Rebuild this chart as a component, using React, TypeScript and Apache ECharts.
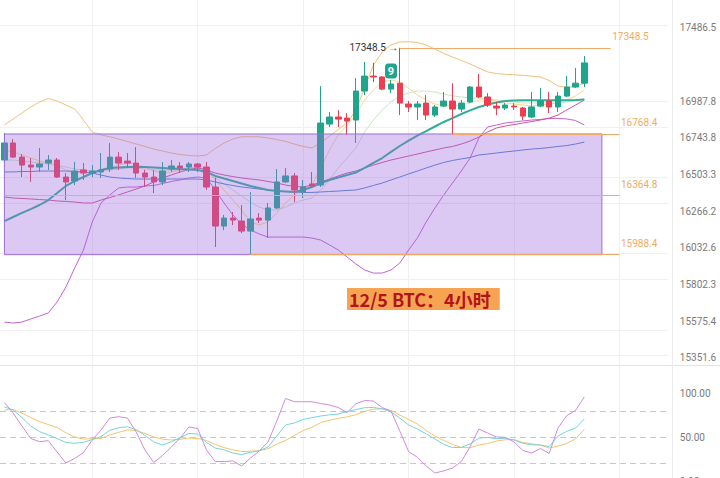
import React, { useEffect, useRef } from 'react';
import * as echarts from 'echarts';

// 4h candle slots (76 slots, 67 filled)
const slots = Array.from({ length: 76 }, (_, i) => String(i));

const open = [16597,16709,16616,16564,16551,16577,16597,16486,16460,16532,16512,16519,16538,16616,16590,16577,16512,16486,16454,16538,16558,16551,16571,16551,16421,16170,16221,16202,16138,16221,16208,16286,16454,16493,16389,16441,16434,16834,16881,16874,16861,17055,17156,17150,17068,17108,16968,16948,16974,16894,16954,16988,16934,16981,17082,17015,16954,16941,16954,16941,16881,16954,16988,16948,17021,17082,17108];
const close = [16709,16616,16564,16551,16571,16597,16486,16454,16525,16512,16525,16532,16616,16577,16577,16512,16486,16454,16525,16558,16545,16571,16551,16421,16170,16221,16208,16138,16215,16208,16286,16454,16493,16402,16421,16428,16841,16881,16867,16854,17055,17156,17150,17068,17102,16974,16948,16968,16894,16948,16988,16934,16974,17082,17015,16961,16941,16961,16948,16887,16948,16988,16948,17021,17082,17108,17245.5];
const low = [16577,16610,16486,16454,16519,16532,16480,16337,16434,16467,16486,16480,16519,16532,16545,16480,16421,16382,16434,16519,16512,16519,16519,16402,16037,16144,16176,16125,15988,16189,16094,16280,16447,16324,16350,16421,16421,16814,16814,16761,16709,17028,17115,17061,17041,16894,16914,16861,16861,16881,16948,16768.4,16914,16975,17008,16948,16894,16928,16928,16861,16874,16948,16907,16914,17015,17075,17082];
const high = [16775,16735,16636,16610,16676,16630,16610,16512,16584,16577,16564,16643,16709,16649,16643,16682,16532,16532,16584,16597,16584,16584,16577,16584,16480,16241,16260,16305,16388,16253,16318,16538,16545,16512,16467,16519,17088,16914,16927,16907,17142,17252,17245,17155,17129,17348.5,16988,16988,17028,16961,17048,17108,16994,17088,17170,17041,16981,16974,16974,16948,17048,17075,17048,17048,17156,17211,17292];

const bbUpper = [16828,16868,16908,16948,16981,17005,16988,16961,16935,16861,16782,16762,16750,16735,16719,16702,16686,16669,16656,16643,16633,16627,16623,16630,16673,16709,16735,16750,16750,16750,16742,16732,16719,16702,16686,16676,16709,16755,16798,16841,16928,17075,17231,17320,17368,17388,17390,17385,17368,17340,17310,17286,17262,17238,17211,17184,17173,17168,17165,17161,17156,17150,17126,17089,17080,17084,17109];
const bbLower = [15569,15563,15569,15588,15606,15625,15693,15786,15905,16018,16196,16318,16370,16415,16421,16421,16428,16431,16444,16457,16467,16480,16486,16480,16402,16318,16241,16183,16145,16120,16100,16100,16100,16100,16100,16094,16081,16050,16018,15974,15930,15892,15873,15873,15892,15936,16018,16094,16196,16286,16370,16447,16525,16610,16742,16815,16828,16841,16848,16855,16861,16865,16871,16872,16868,16858,16828];
const bbMid = [16202,16228,16254,16279,16305,16337,16382,16428,16460,16486,16512,16532,16545,16548,16551,16551,16551,16548,16545,16542,16538,16535,16532,16519,16493,16476,16460,16444,16428,16415,16402,16395,16392,16389,16402,16421,16447,16467,16483,16499,16515,16545,16578,16610,16650,16689,16725,16758,16788,16818,16848,16874,16901,16925,16948,16965,16978,16988,16991,16993,16993,16993,16993,16993,16993,16995,16998];
const maBlue = [16519,16519,16522,16522,16525,16525,16525,16525,16522,16519,16512,16499,16486,16480,16476,16473,16473,16473,16473,16473,16473,16473,16473,16467,16454,16441,16431,16421,16415,16408,16402,16395,16392,16389,16386,16386,16389,16392,16395,16399,16402,16415,16431,16447,16467,16486,16506,16525,16545,16564,16581,16594,16604,16614,16630,16636,16643,16650,16656,16663,16669,16673,16679,16686,16692,16702,16715];
const maPink = [16357,16350,16347,16344,16340,16337,16331,16328,16324,16318,16318,16337,16353,16370,16389,16408,16428,16454,16480,16499,16519,16535,16545,16532,16512,16499,16489,16480,16473,16467,16457,16447,16434,16425,16421,16434,16454,16473,16493,16512,16525,16545,16564,16581,16597,16610,16623,16636,16650,16663,16676,16686,16702,16722,16748,16782,16808,16821,16831,16841,16851,16861,16874,16894,16928,16961,16995];
const maFast = [16663,16650,16630,16610,16591,16578,16558,16532,16519,16512,16519,16525,16545,16564,16578,16571,16551,16525,16512,16519,16532,16545,16551,16532,16467,16402,16337,16273,16196,16177,16196,16254,16318,16370,16402,16434,16545,16663,16762,16828,16894,16995,17062,17116,17129,17116,17075,17028,16995,16968,16955,16955,16961,16975,16995,16995,16988,16975,16968,16961,16955,16961,16968,16975,16995,17022,17062];
const maSlow = [16597,16597,16591,16584,16578,16571,16564,16551,16538,16532,16525,16525,16532,16538,16545,16545,16538,16532,16532,16532,16532,16532,16532,16519,16480,16441,16402,16363,16324,16292,16273,16273,16292,16318,16337,16350,16402,16467,16545,16610,16676,16782,16861,16928,16981,17022,17042,17055,17055,17048,17035,17022,17015,17008,17008,17001,16995,16988,16981,16975,16975,16975,16975,16975,16981,16988,17001];

const stochK = [89.5,77.5,62.7,48.5,44.8,46,33.1,20.5,25.7,32.5,46.8,58.2,71.8,73.3,71.8,55.9,35.3,21.1,29.1,38.8,49,61.6,59.9,35.3,22.2,22.2,22.8,17.1,26.2,34.2,44.5,68.4,94.1,90.4,90.4,90.4,88.4,86.7,83.8,78.1,88.1,91.8,91.2,83.8,79.8,57,33.6,27.1,17.1,9.1,11.6,14.8,22.2,39,59.3,54.7,50.2,49.8,44.5,34.8,31.9,37.1,31.4,60.4,74.5,80.4,95.8];
const stochD = [84.4,81,72.4,62.7,56.4,52.5,48.5,43.9,43.1,44.1,47.3,50.7,57.8,60.8,61.8,58.5,51.9,44.5,41,44.7,49.6,54.2,53.6,43.9,37.6,35.6,31.9,30.1,32.8,34.4,38.8,51.3,63.9,66.2,70.2,72.3,74.1,75.5,76.4,79.1,81.5,83.6,83.8,82.3,78.7,71.8,63.9,59.3,53.8,47.9,41.8,38.1,38.4,42.2,49,49.7,48.3,48.7,46.7,43.1,41.3,41,39.3,51.3,56.7,60.4,70.7];
const stochJ = [81,81.5,77.5,72.4,67.7,64.4,61,55,50.2,47.9,48.2,48.6,52.5,55.5,58.2,57.6,54.2,50.2,47.7,46.8,47.5,49,48.5,46.2,41.6,38.1,35.6,33.6,33.9,34.7,36.7,42.2,46.2,51.9,57.6,61.3,66.6,69.2,71.5,73.1,75.7,79.4,81.9,82.4,80.5,75.3,70.2,65,57.5,51.3,46.2,41.8,38.2,38,41,42.8,45.6,47,47.3,43.9,42.5,41,37.6,39.9,42.8,48.1,59];

const priceTicks = [15351.6, 15575.4, 15802.3, 16032.6, 16266.2, 16503.3, 16743.8, 16987.8, 17486.5];
const stochTicks = [0, 50, 100];
const stochLevels = [20, 50, 80];
const gridSlots = [10, 22, 34, 46, 58, 70];
const lastPrice = 17245.5;
const swingHigh = 17348.5;
const levels = [
  { value: 17348.5, from: 45, to: 69 },
  { value: 16768.4, from: 51, to: 70 },
  { value: 16364.8, from: 0, to: 70 },
  { value: 15988.4, from: 28, to: 70 },
];
const box = { top: 16768.4, bottom: 15988.4, from: 0, to: 68 };
const signalSlot = 44;
const signalPrice = 17190;
const titleText = '12/5 BTC：4小时';

const L = (p: number) => Math.log(p);
const PX_PER_LN = 2534.3;
const LMIN = Math.log(15351.6) - 7.3 / PX_PER_LN;
const LMAX = LMIN + 365 / PX_PER_LN;

const UP = '#1fa58c';
const DOWN = '#ec3d52';
const GRID_W = 667.8;

export default function App() {
  const ref = useRef<HTMLDivElement>(null);
  useEffect(() => {
    if (!ref.current) return;
    const chart = echarts.init(ref.current, undefined, { renderer: 'svg' });
    const logLine = (arr: number[]) => arr.map(L);
    const lineSeries = (name: string, arr: number[], color: string, width = 1) => ({
      name, type: 'line', xAxisIndex: 0, yAxisIndex: 0, data: logLine(arr),
      showSymbol: false, symbol: 'none', silent: true, z: 2,
      lineStyle: { color, width },
    });
    const stochSeries = (name: string, arr: number[], color: string) => ({
      name, type: 'line', xAxisIndex: 1, yAxisIndex: 1, data: arr,
      showSymbol: false, symbol: 'none', silent: true, z: 2,
      lineStyle: { color, width: 1 },
    });
    const axisFont = { color: '#7a7a7a', fontSize: 10, fontFamily: 'Roboto' };
    chart.setOption({
      animation: false,
      backgroundColor: '#ffffff',
      title: {
        text: titleText, left: 347, top: 288,
        backgroundColor: '#f7a452', padding: [2, 9, 2, 2],
        textStyle: { color: '#b3141b', fontSize: 18, fontWeight: 'bold', fontFamily: 'Noto Sans CJK SC', lineHeight: 18 },
      },
      grid: [
        { left: 0, top: 0, width: GRID_W, height: 365, outerBoundsMode: 'none', containLabel: false },
        { left: 0, top: 365, width: GRID_W, height: 116, outerBoundsMode: 'none', containLabel: false },
      ],
      xAxis: [0, 1].map((g) => ({
        type: 'category', gridIndex: g, data: slots, boundaryGap: true,
        axisLine: { show: false }, axisTick: { show: false }, axisLabel: { show: false }, splitLine: { show: false },
      })),
      yAxis: [
        {
          type: 'value', gridIndex: 0, position: 'right', min: LMIN, max: LMAX,
          axisLine: { show: false }, axisTick: { show: false, customValues: priceTicks.map(L) }, splitLine: { show: false },
          axisLabel: { ...axisFont, margin: 12, customValues: priceTicks.map(L), formatter: (v: number) => Math.exp(v).toFixed(1) },
        },
        {
          type: 'value', gridIndex: 1, position: 'right', min: 0, max: 132.3,
          axisLine: { show: false }, axisTick: { show: false, customValues: stochTicks }, splitLine: { show: false },
          axisLabel: { ...axisFont, margin: 12, customValues: stochTicks, formatter: (v: number) => v.toFixed(2) },
        },
      ],
      graphic: [
        { type: 'line', shape: { x1: 0, y1: 365.5, x2: 720, y2: 365.5 }, style: { stroke: '#e4e4e4', lineWidth: 1 }, silent: true },
        { type: 'line', shape: { x1: 672.5, y1: 0, x2: 672.5, y2: 478 }, style: { stroke: '#ededed', lineWidth: 1 }, silent: true },
      ],
      series: [
        {
          name: 'gridMain', type: 'line', xAxisIndex: 0, yAxisIndex: 0, data: [], silent: true, z: 0,
          markLine: {
            z: 0, silent: true, symbol: ['none', 'none'], label: { show: false },
            lineStyle: { color: '#f0f0f0', type: 'solid', width: 1 },
            data: [
              ...priceTicks.map((v) => ({ yAxis: L(v) })),
              ...gridSlots.map((i) => ({ xAxis: i })),
            ],
          },
        },
        {
          name: 'gridSub', type: 'line', xAxisIndex: 1, yAxisIndex: 1, data: [], silent: true, z: 0,
          markLine: {
            z: 0, silent: true, symbol: ['none', 'none'], label: { show: false },
            data: [
              ...gridSlots.map((i) => ({ xAxis: i, lineStyle: { color: '#f0f0f0', type: 'solid', width: 1 } })),
              ...stochLevels.map((v) => ({ yAxis: v, lineStyle: { color: '#c8c8c8', type: [6, 4], width: 1 } })),
            ],
          },
        },
        {
          name: 'BTC', type: 'candlestick', xAxisIndex: 0, yAxisIndex: 0, z: 2, barWidth: 6,
          data: open.map((o, i) => [L(o), L(close[i]), L(low[i]), L(high[i])]),
          itemStyle: { color: UP, color0: DOWN, borderColor: UP, borderColor0: DOWN, borderWidth: 1 },
          markPoint: {
            z: 8, silent: true,
            data: [
              {
                coord: [45, L(swingHigh)], symbol: 'circle', symbolSize: 1, itemStyle: { color: 'rgba(0,0,0,0)' },
                label: { show: true, position: 'left', distance: 1, formatter: swingHigh.toFixed(1) + ' →', color: '#333333', fontSize: 10, fontFamily: 'Roboto' },
              },
              {
                coord: [signalSlot, L(signalPrice)], symbol: 'roundRect', symbolSize: [12, 15], itemStyle: { color: UP },
                label: { show: true, position: 'inside', formatter: '9', color: '#ffffff', fontSize: 11, fontWeight: 'bold', fontFamily: 'Roboto' },
              },
            ],
          },
          markLine: {
            z: 20, silent: true, symbol: ['none', 'none'], lineStyle: { opacity: 0 },
            label: {
              show: true, position: 'end', distance: 4, formatter: lastPrice.toFixed(1),
              backgroundColor: '#22ab94', color: '#ffffff', padding: [3, 5, 3, 5], fontSize: 10, fontFamily: 'Roboto',
            },
            data: [{ yAxis: L(lastPrice) }],
          },
        },
        lineSeries('maSlow', maSlow, '#c9e4c6'),
        lineSeries('maFast', maFast, '#f6da8e'),
        lineSeries('bbUpper', bbUpper, '#f2c07a'),
        lineSeries('bbLower', bbLower, '#c263d3'),
        lineSeries('maBlue', maBlue, '#4f82d8'),
        lineSeries('maPink', maPink, '#d4509d'),
        lineSeries('bbMid', bbMid, '#2fae9a', 2),
        {
          name: 'box', type: 'line', xAxisIndex: 0, yAxisIndex: 0, data: [], silent: true, z: 10,
          markArea: {
            z: 10, silent: true,
            itemStyle: { color: 'rgba(156,106,222,0.36)', borderColor: '#9a6fd8', borderWidth: 1 },
            data: [[{ coord: [box.from, L(box.top)] }, { coord: [box.to, L(box.bottom)] }]],
          },
        },
        {
          name: 'levels', type: 'line', xAxisIndex: 0, yAxisIndex: 0, data: [], silent: true, z: 11,
          markLine: {
            z: 11, silent: true, symbol: ['none', 'none'], label: { show: false },
            lineStyle: { color: '#f0a96a', type: 'solid', width: 1 },
            data: levels.map((lv) => [{ coord: [lv.from, L(lv.value)] }, { coord: [lv.to, L(lv.value)] }]),
          },
          markPoint: {
            z: 12, silent: true, symbol: 'circle', symbolSize: 1, itemStyle: { color: 'rgba(0,0,0,0)' },
            data: levels.map((lv) => ({
              coord: [lv.to, L(lv.value)],
              label: { show: true, position: 'right', distance: 1, offset: [0, -11], formatter: lv.value.toFixed(1), color: '#f2ab5e', fontSize: 10, fontFamily: 'Roboto' },
            })),
          },
        },
        stochSeries('J', stochJ, '#f4c46c'),
        stochSeries('D', stochD, '#74d4dc'),
        stochSeries('K', stochK, '#d08ade'),
      ],
    });
    return () => chart.dispose();
  }, []);
  return (
    <div
      ref={ref}
      style={{ position: 'fixed', left: 0, top: 0, width: 720, height: 478, background: '#fff' }}
    />
  );
}
